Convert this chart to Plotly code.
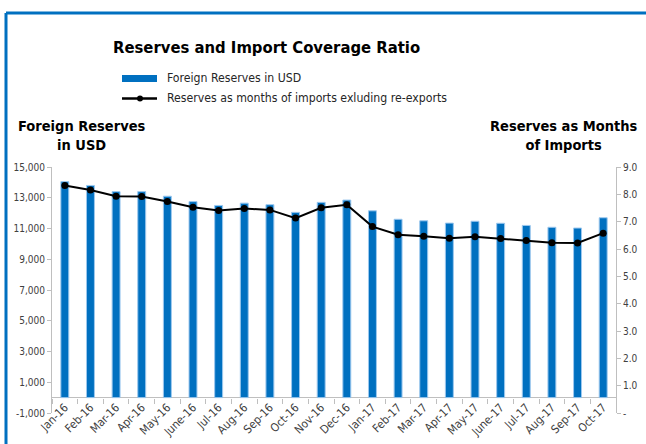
import plotly.graph_objects as go

months = ["Jan-16", "Feb-16", "Mar-16", "Apr-16", "May-16", "June-16", "Jul-16", "Aug-16",
          "Sep-16", "Oct-16", "Nov-16", "Dec-16", "Jan-17", "Feb-17", "Mar-17", "Apr-17",
          "May-17", "June-17", "Jul-17", "Aug-17", "Sep-17", "Oct-17"]
reserves_usd = [14050, 13800, 13400, 13400, 13100, 12750, 12500, 12650,
                12550, 12050, 12700, 12850, 12150, 11600, 11500, 11350,
                11470, 11340, 11200, 11080, 11030, 11700]
import_months = [8.32, 8.16, 7.93, 7.92, 7.74, 7.53, 7.41, 7.48,
                 7.43, 7.13, 7.51, 7.62, 6.82, 6.52, 6.47, 6.39,
                 6.45, 6.38, 6.31, 6.23, 6.22, 6.58]
left_ticks = list(range(-1000, 15001, 2000))
left_ticktext = [f"{v:,}" for v in left_ticks]
right_ticks = list(range(0, 10))
right_ticktext = ["-"] + [f"{v:.1f}" for v in right_ticks[1:]]

W, H = 646, 444
L, R, T, B = 52, 30, 167, 31
PW, PH = W - L - R, H - T - B

def fx(px):
    return (px - L) / PW

def fy(py):
    return (H - B - py) / PH

FONT = "DejaVu Sans Condensed, Lato, sans-serif"
BLUE = "#0070C0"
GRAY = "#BFBFBF"
TXT = "#404040"

fig = go.Figure()
fig.add_trace(go.Bar(
    x=months, y=reserves_usd, name="Foreign Reserves in USD",
    marker=dict(color=BLUE, line=dict(color="#9DC8EE", width=1)),
    width=0.31, showlegend=False,
))
fig.add_trace(go.Scatter(
    x=months, y=import_months, yaxis="y2", mode="lines+markers",
    name="Reserves as months of imports exluding re-exports",
    line=dict(color="black", width=2), marker=dict(color="black", size=7),
    showlegend=False,
))

fig.update_layout(
    width=W, height=H,
    margin=dict(l=L, r=R, t=T, b=B),
    paper_bgcolor="white", plot_bgcolor="white",
    font=dict(family=FONT, color=TXT),
    xaxis=dict(
        type="category", range=[-0.5, len(months) - 0.5], anchor="free", position=1000 / 16000,
        ticks="outside", tickson="boundaries", ticklen=5, tickcolor=GRAY,
        showline=False, showgrid=False, tickangle=-45,
        tickfont=dict(size=11.5, color=TXT, family=FONT), automargin=False,
    ),
    yaxis=dict(
        range=[-1000, 15000], tickvals=left_ticks, ticktext=left_ticktext,
        showgrid=False, showline=True, linecolor=GRAY, linewidth=1,
        ticks="outside", ticklen=4, tickcolor=GRAY,
        zeroline=True, zerolinecolor=GRAY, zerolinewidth=1,
        tickfont=dict(size=10, color=TXT, family=FONT), automargin=False,
    ),
    yaxis2=dict(
        range=[0, 9], tickvals=right_ticks, ticktext=right_ticktext,
        overlaying="y", side="right", showgrid=False, zeroline=False,
        showline=True, linecolor=GRAY, linewidth=1,
        ticks="outside", ticklen=4, tickcolor=GRAY,
        tickfont=dict(size=10, color=TXT, family=FONT), automargin=False,
    ),
)

shapes = [
    dict(type="line", xref="paper", yref="paper", x0=fx(6), x1=fx(646), y0=fy(13), y1=fy(13),
         line=dict(color=BLUE, width=3)),
    dict(type="line", xref="paper", yref="paper", x0=fx(6), x1=fx(6), y0=fy(13), y1=fy(444),
         line=dict(color=BLUE, width=3)),
    dict(type="rect", xref="paper", yref="paper", x0=fx(122), x1=fx(157), y0=fy(75), y1=fy(82),
         fillcolor=BLUE, line=dict(width=0)),
    dict(type="line", xref="paper", yref="paper", x0=fx(122), x1=fx(157), y0=fy(98.5), y1=fy(98.5),
         line=dict(color="black", width=2.5)),
    dict(type="circle", xref="paper", yref="paper", x0=fx(137), x1=fx(143), y0=fy(95.5), y1=fy(101.5),
         fillcolor="black", line=dict(width=0)),
]
fig.update_layout(shapes=shapes)

ann = [
    dict(text="<b>Reserves and Import Coverage Ratio</b>", x=fx(266), y=fy(47),
         xanchor="center", yanchor="middle", font=dict(size=16.5, color="black")),
    dict(text="Foreign Reserves in USD", x=fx(165), y=fy(78.5),
         xanchor="left", yanchor="middle", font=dict(size=12.2, color="#262626")),
    dict(text="Reserves as months of imports exluding re-exports", x=fx(165), y=fy(98.5),
         xanchor="left", yanchor="middle", font=dict(size=12.2, color="#262626")),
    dict(text="<b>Foreign Reserves<br>in USD</b>", x=fx(82), y=fy(135),
         xanchor="center", yanchor="middle", font=dict(size=14.5, color="black")),
    dict(text="<b>Reserves as Months<br>of Imports</b>", x=fx(563), y=fy(135),
         xanchor="center", yanchor="middle", font=dict(size=14.5, color="black")),
]
for a in ann:
    a.update(xref="paper", yref="paper", showarrow=False)
fig.update_layout(annotations=ann)

fig.write_html("out.html", config={"displayModeBar": False},
               post_script="document.body.style.margin='0';document.body.style.overflow='hidden';")
